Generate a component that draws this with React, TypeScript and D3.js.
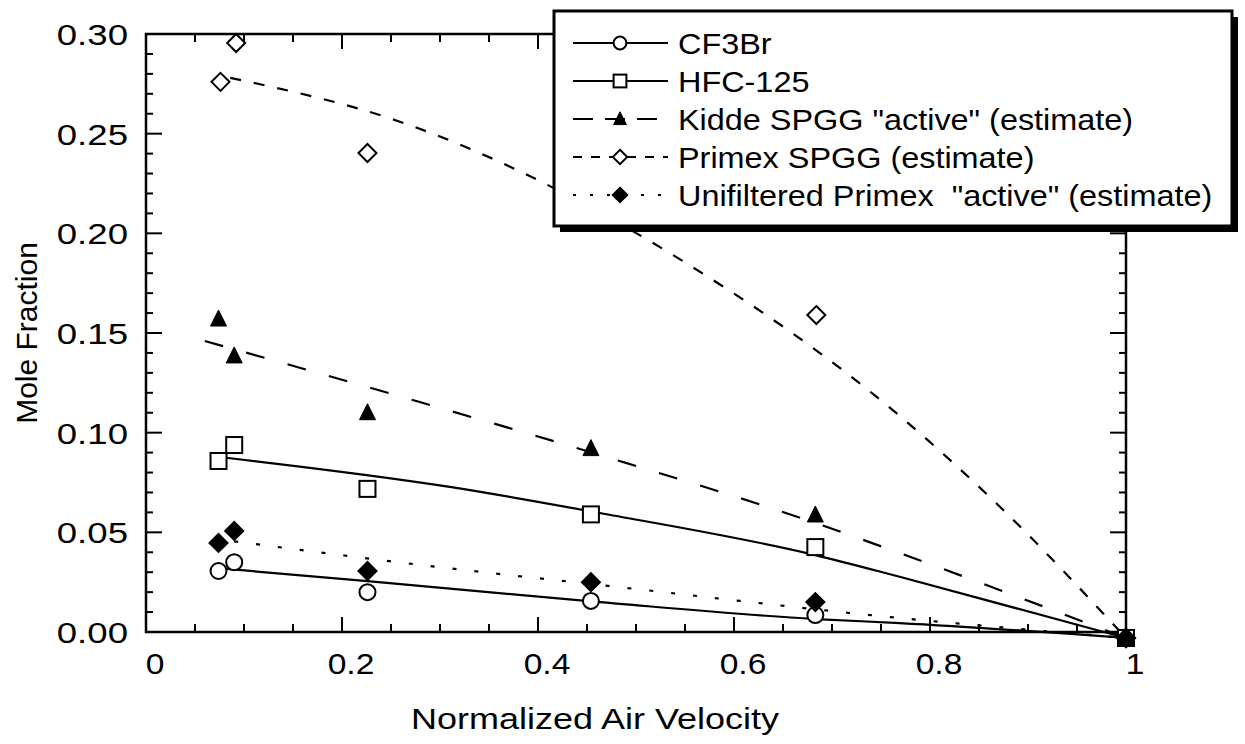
import React from "react";
import * as d3 from "d3";

// measured points, x = normalized air velocity
const xPts = [0.074, 0.09, 0.226, 0.454, 0.683, 1.0];
const xPrimex = [0.076, 0.092, 0.226, 0.684, 1.0];

const cf3br = [0.0306, 0.035, 0.02, 0.0156, 0.0085, -0.003];
const hfc125 = [0.0858, 0.0938, 0.0718, 0.059, 0.0426, -0.003];
const kidde = [0.157, 0.1385, 0.11, 0.092, 0.0587, -0.003];
const primex = [0.276, 0.2955, 0.2403, 0.159, -0.003];
const unfiltered = [0.0447, 0.0507, 0.0306, 0.025, 0.015, -0.003];

// fitted curves
const fitCf3brX = [0.074, 0.226, 0.463, 0.683, 0.769, 1.0];
const fitCf3brY = [0.032, 0.0255, 0.015, 0.0065, 0.0045, -0.003];
const fitHfcX = [0.075, 0.31, 0.463, 0.683, 0.77, 1.0];
const fitHfcY = [0.0878, 0.0728, 0.0597, 0.0386, 0.0276, -0.003];
const fitKiddeX = [0.06, 0.272, 0.463, 0.683, 0.769, 1.0];
const fitKiddeY = [0.146, 0.1164, 0.0888, 0.0547, 0.0396, -0.003];
const fitPrimexX = [0.086, 0.259, 0.548, 0.77, 0.871, 1.0];
const fitPrimexY = [0.278, 0.256, 0.186, 0.108, 0.063, -0.003];
const fitUnfX = [0.09, 0.298, 0.463, 0.759, 1.0];
const fitUnfY = [0.0455, 0.0326, 0.0236, 0.0075, -0.003];

const xTickValues = [0, 0.2, 0.4, 0.6, 0.8, 1];
const xTickLabels = ["0", "0.2", "0.4", "0.6", "0.8", "1"];
const yTickValues = [0, 0.05, 0.1, 0.15, 0.2, 0.25, 0.3];
const yTickLabels = ["0.00", "0.05", "0.10", "0.15", "0.20", "0.25", "0.30"];

const legendLabels = [
  "CF3Br",
  "HFC-125",
  'Kidde SPGG "active" (estimate)',
  "Primex SPGG (estimate)",
  'Unifiltered Primex  "active" (estimate)',
];

const FONT = "'Liberation Sans', Arial, Helvetica, sans-serif";

// the scan is a bit wider than tall, so text is stretched sideways
const Label = ({ x, y, size, sx, anchor = "start", children }: any) => (
  <text
    transform={`translate(${x},${y}) scale(${sx},1)`}
    textAnchor={anchor}
    fontSize={size}
    fill="black"
    style={{ whiteSpace: "pre" }}
  >
    {children}
  </text>
);

const Marker = ({ type, x, y, s = 1 }: { type: string; x: number; y: number; s?: number }) => {
  if (type === "circle") return <circle cx={x} cy={y} r={8 * s} fill="white" stroke="black" strokeWidth={2} />;
  if (type === "square")
    return (
      <rect x={x - 8 * s} y={y - 8 * s} width={16 * s} height={16 * s} fill="white" stroke="black" strokeWidth={2} />
    );
  if (type === "triangle")
    return (
      <path
        d={`M${x},${y - 9 * s}L${x + 8 * s},${y + 7 * s}L${x - 8 * s},${y + 7 * s}Z`}
        fill="black"
        stroke="black"
        strokeWidth={1}
      />
    );
  const filled = type === "diamondFilled";
  const r = 9 * s;
  return (
    <path
      d={`M${x},${y - r}L${x + r},${y}L${x},${y + r}L${x - r},${y}Z`}
      fill={filled ? "black" : "white"}
      stroke="black"
      strokeWidth={2}
    />
  );
};

export default function App() {
  const width = 1245;
  const height = 744;
  const x = d3.scaleLinear().domain([0, 1]).range([146, 1126]);
  const y = d3.scaleLinear().domain([0, 0.3]).range([632, 34]);

  const line = d3
    .line<[number, number]>()
    .x((d) => x(d[0]))
    .y((d) => y(d[1]))
    .curve(d3.curveMonotoneX);

  const series = [
    { xs: xPts, ys: cf3br, fx: fitCf3brX, fy: fitCf3brY, marker: "circle", dash: "none" },
    { xs: xPts, ys: hfc125, fx: fitHfcX, fy: fitHfcY, marker: "square", dash: "none" },
    { xs: xPts, ys: kidde, fx: fitKiddeX, fy: fitKiddeY, marker: "triangle", dash: "19,24" },
    { xs: xPrimex, ys: primex, fx: fitPrimexX, fy: fitPrimexY, marker: "diamond", dash: "11,13" },
    { xs: xPts, ys: unfiltered, fx: fitUnfX, fy: fitUnfY, marker: "diamondFilled", dash: "4,18" },
  ];

  const [x0, x1] = x.range();
  const [y0, y1] = y.range();
  const xMinor = d3.range(0, 1.0001, 0.05);
  const yMinor = d3.range(0, 0.3001, 0.01);
  const isMajorX = (v: number) => Math.abs(v * 5 - Math.round(v * 5)) < 1e-6;
  const isMajorY = (v: number) => Math.abs(v * 20 - Math.round(v * 20)) < 1e-6;

  const legendX = 554;
  const legendY = 11;
  const legendW = 678;
  const legendH = 215;
  const rowY = (i: number) => 43 + i * 38;
  const legendDash = ["none", "none", "20,12", "9,9", "3,14"];

  return (
    <svg
      width={width}
      height={height}
      style={{ position: "absolute", left: 0, top: 0, background: "white" }}
      fontFamily={FONT}
    >
      <rect x={0} y={0} width={width} height={height} fill="white" />

      {/* fitted curves */}
      {series.map((s, i) => (
        <path
          key={"fit" + i}
          d={line(s.fx.map((v, j) => [v, s.fy[j]] as [number, number])) || ""}
          fill="none"
          stroke="black"
          strokeWidth={2.2}
          strokeDasharray={s.dash}
        />
      ))}

      {/* frame */}
      <rect x={x0} y={y1} width={x1 - x0} height={y0 - y1} fill="none" stroke="black" strokeWidth={2.5} />

      {/* x ticks, bottom and top */}
      {xMinor.map((v, i) => {
        const len = isMajorX(v) ? 15 : 8;
        return (
          <g key={"xt" + i}>
            <line x1={x(v)} x2={x(v)} y1={y0} y2={y0 - len} stroke="black" strokeWidth={2} />
            <line x1={x(v)} x2={x(v)} y1={y1} y2={y1 + len} stroke="black" strokeWidth={2} />
          </g>
        );
      })}
      {/* y ticks, left and right */}
      {yMinor.map((v, i) => {
        const len = isMajorY(v) ? 16 : 7;
        return (
          <g key={"yt" + i}>
            <line x1={x0} x2={x0 + len} y1={y(v)} y2={y(v)} stroke="black" strokeWidth={2} />
            <line x1={x1} x2={x1 - len} y1={y(v)} y2={y(v)} stroke="black" strokeWidth={2} />
          </g>
        );
      })}

      {xTickValues.map((v, i) => (
        <Label key={"xl" + i} x={x(v) + 9} y={y0 + 42} size={30} sx={1.12} anchor="middle">
          {xTickLabels[i]}
        </Label>
      ))}
      {yTickValues.map((v, i) => (
        <Label key={"yl" + i} x={128} y={y(v) + 11} size={30} sx={1.22} anchor="end">
          {yTickLabels[i]}
        </Label>
      ))}

      <Label x={595} y={729} size={30} sx={1.2} anchor="middle">
        Normalized Air Velocity
      </Label>
      <text
        transform={`translate(37, ${(y0 + y1) / 2}) rotate(-90)`}
        textAnchor="middle"
        fontSize={30}
        fill="black"
      >
        Mole Fraction
      </text>

      {/* markers */}
      {series.map((s, i) =>
        s.xs.map((v, j) => <Marker key={`m${i}-${j}`} type={s.marker} x={x(v)} y={y(s.ys[j])} />)
      )}

      {/* legend */}
      <rect x={legendX + 6} y={legendY + 6} width={legendW} height={legendH} fill="black" />
      <rect x={legendX} y={legendY} width={legendW} height={legendH} fill="white" stroke="black" strokeWidth={3} />
      {legendLabels.map((label, i) => (
        <g key={"lg" + i}>
          <line
            x1={573}
            x2={668}
            y1={rowY(i)}
            y2={rowY(i)}
            stroke="black"
            strokeWidth={2}
            strokeDasharray={legendDash[i]}
          />
          <Marker type={series[i].marker} x={620} y={rowY(i)} s={0.8} />
          <Label x={678} y={rowY(i) + 11} size={30} sx={1.08}>
            {label}
          </Label>
        </g>
      ))}
    </svg>
  );
}
